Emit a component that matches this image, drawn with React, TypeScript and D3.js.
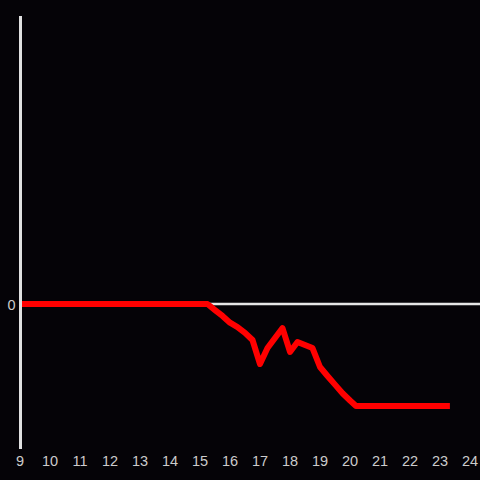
import React from "react";
import * as d3 from "d3";

const hours = [9, 15.25, 15.5, 15.75, 16, 16.25, 16.5, 16.75, 17, 17.25, 17.5, 17.75, 18, 18.25, 18.5, 18.75, 19, 19.25, 19.5, 19.75, 20, 20.2, 23.33];
const values = [0, 0, -0.042, -0.083, -0.13, -0.16, -0.2, -0.25, -0.417, -0.306, -0.236, -0.167, -0.333, -0.264, -0.285, -0.306, -0.4375, -0.5, -0.56, -0.62, -0.67, -0.708, -0.708];
const xTicks = [9, 10, 11, 12, 13, 14, 15, 16, 17, 18, 19, 20, 21, 22, 23, 24];
const yTicks = [0];

export default function App() {
  const W = 480, H = 480;
  const x = d3.scaleLinear().domain([9, 24]).range([20, 470]);
  const y = d3.scaleLinear().domain([-1, 2]).range([448, 16]);
  const pts = hours.map((h, i) => [h, values[i]] as [number, number]);
  const line = d3.line<[number, number]>().x(d => x(d[0])).y(d => y(d[1]));
  return (
    <svg width={W} height={H} style={{ position: "fixed", left: 0, top: 0, background: "#050307" }}>
      <rect width={W} height={H} fill="#050307" />
      <line x1={x(9)} x2={W} y1={y(0)} y2={y(0)} stroke="#e6e6e6" strokeWidth={2.5} />
      <path d={line(pts) || ""} fill="none" stroke="#ff0000" strokeWidth={6} strokeLinejoin="round" />
      <line x1={20.5} x2={20.5} y1={16} y2={449} stroke="#e0e0e0" strokeWidth={3} />
      {xTicks.map(t => (
        <text key={t} x={x(t)} y={466} textAnchor="middle" fill="#cccccc" fontSize={14.5} fontFamily="Liberation Sans, Arial, sans-serif">{t}</text>
      ))}
      {yTicks.map(t => (
        <text key={t} x={15.5} y={y(t) + 5.5} textAnchor="end" fill="#cccccc" fontSize={14.5} fontFamily="Liberation Sans, Arial, sans-serif">{t}</text>
      ))}
    </svg>
  );
}
